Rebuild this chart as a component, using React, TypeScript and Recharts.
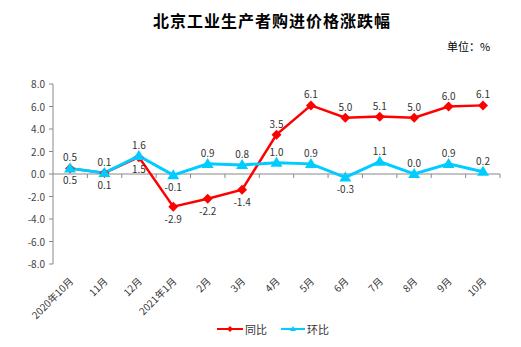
import React from 'react';
import { LineChart, Line, XAxis, YAxis, ReferenceLine, LabelList, Legend } from 'recharts';

// values
const months = ['2020年10月', '11月', '12月', '2021年1月', '2月', '3月', '4月', '5月', '6月', '7月', '8月', '9月', '10月'];
const yoy = [0.5, 0.1, 1.5, -2.9, -2.2, -1.4, 3.5, 6.1, 5.0, 5.1, 5.0, 6.0, 6.1];
const mom = [0.5, 0.1, 1.6, -0.1, 0.9, 0.8, 1.0, 0.9, -0.3, 1.1, 0.0, 0.9, 0.2];
const yTicks = [-8, -6, -4, -2, 0, 2, 4, 6, 8];

const data = months.map((m, i) => ({ name: m, yoy: yoy[i], mom: mom[i] }));

const RED = '#ff0000';
const CYAN = '#00ccff';
const FONT = '"Noto Sans CJK SC", "DejaVu Sans", sans-serif';

const Diamond = ({ cx, cy }: any) =>
  cx == null ? null : (
    <polygon points={`${cx},${cy - 5} ${cx + 5},${cy} ${cx},${cy + 5} ${cx - 5},${cy}`} fill={RED} />
  );

const Triangle = ({ cx, cy }: any) =>
  cx == null ? null : (
    <polygon points={`${cx},${cy - 6} ${cx + 6},${cy + 4} ${cx - 6},${cy + 4}`} fill={CYAN} />
  );

// label below when negative, or for 同比 when it sits under 环比
const makeLabel = (series: 'yoy' | 'mom') => (props: any) => {
  const { x, y, value, index } = props;
  const below = value < 0 || (series === 'yoy' && yoy[index] <= mom[index]);
  return (
    <text x={x} y={below ? y + 16 : y - 7} textAnchor="middle" fontSize={10} fill="#333" fontFamily={FONT}>
      {value.toFixed(1)}
    </text>
  );
};

const ZeroLine = (props: any) => {
  const { x1, y1, x2 } = props;
  const n = months.length;
  const step = (x2 - x1) / n;
  return (
    <g>
      <line x1={x1} y1={y1} x2={x2} y2={y1} stroke="#888" strokeWidth={1} />
      {months.map((_, i) => (
        <line key={i} x1={x1 + step * (i + 1)} y1={y1} x2={x1 + step * (i + 1)} y2={y1 + 4} stroke="#888" />
      ))}
    </g>
  );
};

const MonthTick = ({ x, y, payload }: any) => (
  <text
    transform={`translate(${x + 4},${y + 10}) rotate(-45)`}
    textAnchor="end"
    fontSize={10}
    fill="#333"
    fontFamily={FONT}
  >
    {payload.value}
  </text>
);

const ValueTick = ({ x, y, payload }: any) => (
  <text x={x - 2} y={y + 4} textAnchor="end" fontSize={10} fill="#444" fontFamily={FONT}>
    {Number(payload.value).toFixed(1)}
  </text>
);

const LegendBox = () => (
  <div style={{ display: 'flex', justifyContent: 'center', fontSize: 11, color: '#333', fontFamily: FONT, marginLeft: 38, marginTop: -3 }}>
    <svg width={28} height={12} style={{ marginTop: 2 }}>
      <line x1={0} y1={6} x2={26} y2={6} stroke={RED} strokeWidth={2} />
      <polygon points="13,3 16,6 13,9 10,6" fill={RED} />
    </svg>
    <span style={{ marginRight: 14 }}>同比</span>
    <svg width={26} height={12} style={{ marginTop: 2 }}>
      <line x1={0} y1={6} x2={24} y2={6} stroke={CYAN} strokeWidth={2} />
      <polygon points="12,3 15,8 9,8" fill={CYAN} />
    </svg>
    <span>环比</span>
  </div>
);

export default function App() {
  return (
    <div style={{ position: 'absolute', left: 0, top: 0, width: 521, height: 347, background: '#fff' }}>
      <div
        style={{
          position: 'absolute', left: 153, top: 8, whiteSpace: 'nowrap',
          fontFamily: FONT, fontWeight: 700, fontSize: 16, letterSpacing: 1, color: '#000',
        }}
      >
        北京工业生产者购进价格涨跌幅
      </div>
      <div style={{ position: 'absolute', left: 447, top: 38, fontFamily: FONT, fontSize: 11, color: '#000' }}>
        单位：%
      </div>
      <LineChart width={521} height={347} data={data} margin={{ top: 84, right: 21, bottom: 0, left: 8 }}>
        <XAxis
          dataKey="name"
          axisLine={false}
          tickLine={false}
          tick={<MonthTick />}
          interval={0}
          height={60}
          padding={{ left: 17, right: 17 }}
        />
        <YAxis
          domain={[-8, 8]}
          ticks={yTicks}
          interval={0}
          width={45}
          stroke="#888"
          tickSize={4}
          tick={<ValueTick />}
        />
        <ReferenceLine y={0} shape={<ZeroLine />} />
        <Legend verticalAlign="bottom" height={23} content={<LegendBox />} />
        <Line
          dataKey="yoy"
          name="同比"
          stroke={RED}
          strokeWidth={2.5}
          dot={<Diamond />}
          activeDot={false}
          isAnimationActive={false}
        >
          <LabelList dataKey="yoy" content={makeLabel('yoy')} />
        </Line>
        <Line
          dataKey="mom"
          name="环比"
          stroke={CYAN}
          strokeWidth={3}
          dot={<Triangle />}
          activeDot={false}
          isAnimationActive={false}
        >
          <LabelList dataKey="mom" content={makeLabel('mom')} />
        </Line>
      </LineChart>
    </div>
  );
}
